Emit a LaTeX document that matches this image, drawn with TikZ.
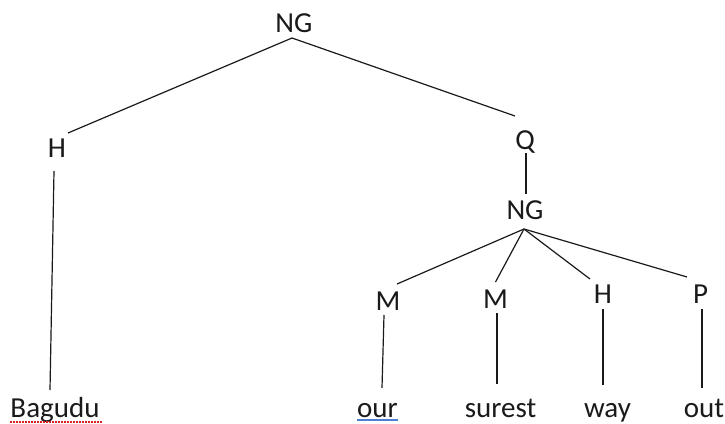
\documentclass[tikz,border=0pt]{standalone}
\usepackage{fontspec}
\setmainfont{Carlito}
\usetikzlibrary{calc}
\definecolor{ink}{HTML}{1A1A1A}
\definecolor{spellred}{HTML}{E02020}
\definecolor{gramblue}{HTML}{4A7FD4}
\begin{document}
\begin{tikzpicture}[x=1pt,y=-1pt,
  lbl/.style={anchor=base,inner sep=0pt,text=ink,font=\fontsize{29}{30}\selectfont},
  edge/.style={line width=1.2pt,draw=ink}]
\useasboundingbox[fill=white] (0,0) rectangle (725,423);
% labels
\node[lbl] (ng)  at (294,32)  {NG};
\node[lbl] (h)   at (57,157)  {H};
\node[lbl] (q)   at (525,149) {Q};
\node[lbl] (ngb) at (525,219) {NG};
\node[lbl] (m1)  at (388,310) {M};
\node[lbl] (m2)  at (495.5,308) {M};
\node[lbl] (h2)  at (603,303) {H};
\node[lbl] (p)   at (700.5,303) {P};
% words
\node[lbl] (bagudu) at (55,417)    {Bagudu};
\node[lbl] (our)    at (377.5,417) {our};
\node[lbl] (surest) at (500.5,417) {surest};
\node[lbl] (way)    at (607.5,417) {way};
\node[lbl] (out)    at (704,417)   {out};
% connectors
\draw[edge] ($(ng.base)+(-2,6)$) -- ($(h.base)+(11,-24)$);
\draw[edge] ($(ng.base)+(-2,6)$) -- ($(q.base)+(-10,-33)$);
\draw[edge] ($(h.base)+(-3,14)$) -- ($(bagudu.base)+(-5,-27)$);
\draw[edge] ($(q.base)+(1,4)$) -- ($(ngb.base)+(1,-25)$);
\draw[edge] ($(ngb.base)+(-1,10)$) -- ($(m1.base)+(9,-26)$);
\draw[edge] ($(ngb.base)+(-1,10)$) -- ($(m2.base)+(0,-26)$);
\draw[edge] ($(ngb.base)+(-1,10)$) -- ($(h2.base)+(-13,-24)$);
\draw[edge] ($(ngb.base)+(-1,10)$) -- ($(p.base)+(-13.5,-26)$);
\draw[edge] ($(m1.base)+(-4,5)$) -- ($(our.base)+(4.5,-29)$);
\draw[edge] ($(m2.base)+(1.5,5)$) -- ($(surest.base)+(-3.5,-33)$);
\draw[edge] ($(h2.base)+(0,6)$) -- ($(way.base)+(-4.5,-32)$);
\draw[edge] ($(p.base)+(1.5,6)$) -- ($(out.base)+(-2,-29)$);
% proofing underlines
\draw[spellred,line width=1.3pt,dash pattern=on 1.5pt off 1.5pt] ($(bagudu.base west)+(0,5)$) -- ($(bagudu.base east)+(3,5)$);
\draw[gramblue,line width=1.6pt] ($(our.base west)+(0,3)$) -- ($(our.base east)+(0,3)$);
\end{tikzpicture}
\end{document}
